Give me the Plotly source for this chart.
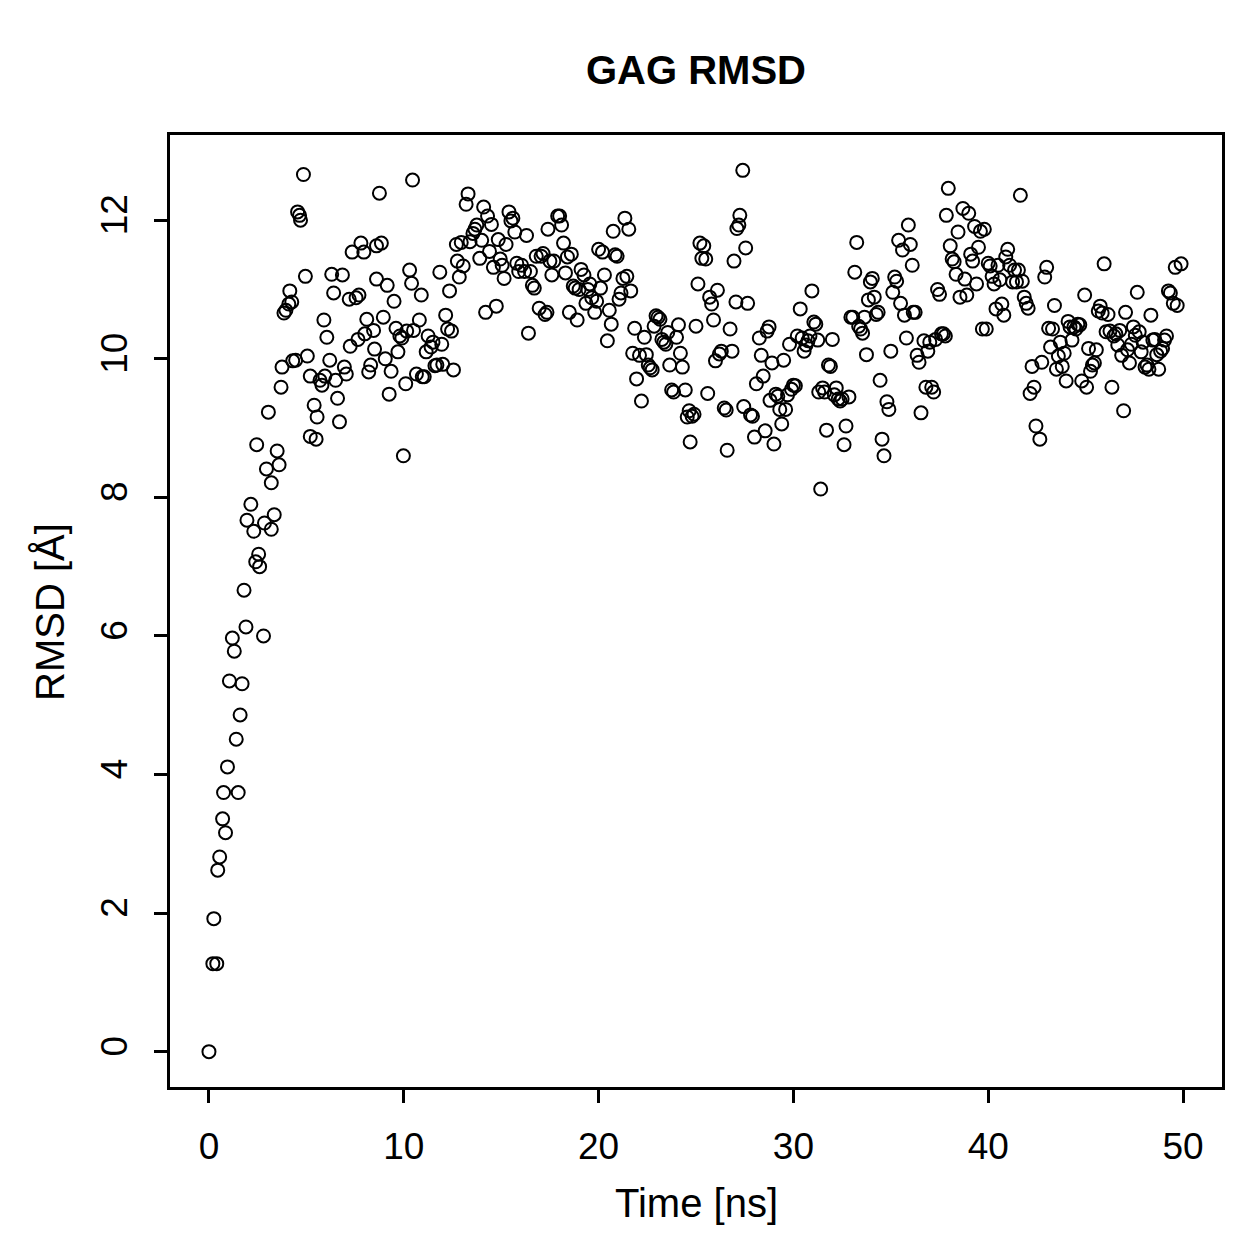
import plotly.graph_objects as go

time_ns = [
    0.0, 0.2, 0.4, 0.25, 0.45, 0.55, 0.7, 0.85, 0.75, 0.95, 1.5, 1.4, 1.6, 1.05, 1.3, 1.2, 1.7, 1.9, 1.8,
    2.8, 2.6, 2.55, 2.4, 2.3, 1.95, 2.15, 2.85, 3.2, 3.35, 2.95, 3.2, 3.6, 3.5, 2.45, 3.05, 3.7, 3.75,
    4.3, 4.45, 3.85, 3.95, 4.1, 4.25, 4.15, 4.85, 4.55, 4.65, 4.7, 4.95, 5.05, 5.2, 5.4, 5.55, 5.2, 5.5,
    5.9, 6.05, 6.2, 5.7, 5.8, 5.95, 6.3, 6.4, 6.5, 6.6, 6.7, 6.85, 6.95, 7.05, 7.2, 7.25, 7.35, 7.55,
    7.65, 7.7, 7.8, 7.95, 8.0, 8.1, 8.2, 8.3, 8.5, 8.45, 8.6, 8.75, 8.6, 8.85, 8.95, 9.05, 9.15, 9.25,
    9.35, 9.5, 9.6, 9.7, 9.8, 9.9, 9.98, 10.1, 10.15, 10.3, 10.4, 10.45, 10.5, 10.65, 10.8, 10.9, 10.95,
    11.05, 11.15, 11.25, 11.4, 11.5, 11.6, 11.7, 11.85, 11.95, 12.0, 12.15, 12.25, 12.35, 12.45, 12.55,
    12.7, 12.75, 12.85, 12.95, 13.05, 13.2, 13.3, 13.4, 13.55, 13.65, 13.75, 13.9, 14.0, 14.1, 14.2,
    14.3, 14.4, 14.5, 14.6, 14.75, 14.85, 14.95, 15.05, 15.15, 15.25, 15.4, 15.5, 15.6, 15.7, 15.8,
    15.9, 16.05, 16.2, 16.3, 16.4, 16.5, 16.6, 16.7, 16.8, 16.95, 17.05, 17.15, 17.25, 17.35, 17.4,
    17.5, 17.6, 17.7, 17.9, 18.0, 18.1, 18.2, 18.3, 18.4, 18.5, 18.6, 18.7, 18.8, 18.9, 19.0, 19.1,
    19.25, 19.35, 19.45, 19.55, 19.65, 19.8, 19.9, 20.0, 20.1, 20.2, 20.3, 20.45, 20.55, 20.65, 20.75,
    20.85, 20.95, 21.05, 21.15, 21.25, 21.35, 21.45, 21.55, 21.65, 21.75, 21.85, 21.95, 22.1, 22.2,
    22.35, 22.45, 22.55, 22.65, 22.75, 22.85, 22.95, 23.05, 23.15, 23.25, 23.35, 23.45, 23.55, 23.65,
    23.75, 23.85, 24.0, 24.1, 24.2, 24.3, 24.45, 24.55, 24.65, 24.7, 24.8, 24.9, 25.0, 25.1, 25.2,
    25.3, 25.4, 25.5, 25.6, 25.7, 25.8, 25.9, 26.0, 26.1, 26.2, 26.3, 26.45, 26.55, 26.6, 26.75, 26.85,
    26.95, 27.05, 27.1, 27.2, 27.25, 27.4, 27.45, 27.55, 27.65, 27.8, 27.9, 28.0, 28.1, 28.25, 28.35,
    28.45, 28.55, 28.65, 28.75, 28.8, 28.9, 29.0, 29.1, 29.2, 29.3, 29.4, 29.5, 29.6, 29.7, 29.8, 29.9,
    30.0, 30.1, 30.2, 30.35, 30.45, 30.55, 30.65, 30.75, 30.85, 30.95, 31.05, 31.15, 31.25, 31.3, 31.4,
    31.5, 31.6, 31.7, 31.8, 31.9, 32.0, 32.1, 32.2, 32.3, 32.4, 32.5, 32.6, 32.7, 32.85, 32.95, 33.05,
    33.15, 33.25, 33.35, 33.45, 33.55, 33.65, 33.75, 33.85, 33.95, 34.05, 34.15, 34.25, 34.35, 34.45,
    34.55, 34.65, 34.8, 34.9, 35.0, 35.1, 35.2, 35.3, 35.4, 35.5, 35.6, 35.7, 35.8, 35.9, 36.0, 36.1,
    36.15, 36.25, 36.35, 36.45, 36.55, 36.7, 36.8, 36.9, 37.0, 37.1, 37.2, 37.3, 37.4, 37.5, 37.6, 37.7,
    37.8, 37.85, 37.95, 38.05, 38.15, 38.25, 38.35, 38.45, 38.55, 38.7, 38.8, 38.9, 39.0, 39.1, 39.2,
    39.3, 39.4, 39.5, 39.6, 39.7, 39.8, 39.9, 40.0, 40.1, 40.2, 40.3, 40.4, 40.5, 40.6, 40.7, 40.8,
    40.9, 41.0, 41.1, 41.25, 41.35, 41.45, 41.55, 41.65, 41.75, 41.85, 41.95, 42.05, 42.15, 42.25,
    42.35, 42.45, 42.65, 42.75, 42.9, 43.0, 43.1, 43.2, 43.3, 43.4, 43.5, 43.6, 43.7, 43.8, 43.9, 44.0,
    44.1, 44.2, 44.3, 44.4, 44.5, 44.6, 44.7, 44.8, 44.95, 45.05, 45.15, 45.25, 45.35, 45.45, 45.55,
    45.65, 45.75, 45.85, 45.95, 46.05, 46.15, 46.25, 46.35, 46.45, 46.55, 46.65, 46.75, 46.85, 46.95,
    47.05, 47.15, 47.25, 47.35, 47.45, 47.55, 47.65, 47.75, 47.85, 47.95, 48.05, 48.15, 48.25, 48.35,
    48.45, 48.55, 48.65, 48.75, 48.85, 48.95, 49.05, 49.15, 49.25, 49.35, 49.5, 49.6, 49.7, 49.9,
]

rmsd_A = [
    0.0, 1.27, 1.27, 1.92, 2.62, 2.81, 3.36, 3.16, 3.74, 4.11, 3.74, 4.51, 4.86, 5.35, 5.78, 5.97, 5.31, 6.13, 6.66,
    6.0, 7.0, 7.18, 7.07, 7.51, 7.67, 7.9, 7.63, 7.54, 7.75, 8.41, 8.21, 8.47, 8.67, 8.76, 9.23, 9.59, 9.88,
    9.97, 9.98, 10.66, 10.7, 10.79, 10.82, 10.98, 12.66, 12.12, 12.07, 12.0, 11.19, 10.04, 9.75, 9.33, 9.16, 8.88, 8.84,
    10.56, 10.31, 9.98, 9.69, 9.62, 9.75, 11.22, 10.95, 9.69, 9.43, 9.09, 11.21, 9.88, 9.78, 10.86, 10.18, 11.54, 10.88,
    10.28, 10.92, 11.67, 11.54, 10.36, 10.57, 9.81, 9.91, 10.14, 10.41, 11.15, 12.39, 11.63, 11.67, 10.6, 10.0, 11.06, 9.49,
    9.82, 10.83, 10.44, 10.1, 10.33, 10.3, 8.6, 9.64, 10.4, 11.28, 11.09, 12.58, 10.41, 9.78, 10.56, 10.92, 9.74,
    9.74, 10.1, 10.33, 10.17, 10.24, 9.9, 9.91, 11.25, 10.21, 9.92, 10.63, 10.43, 10.98, 10.4, 9.84,
    11.65, 11.41, 11.18, 11.68, 11.34, 12.23, 12.38, 11.69, 11.81, 11.87, 11.93, 11.45, 11.71, 12.19, 10.67,
    12.06, 11.55, 11.94, 11.32, 10.76, 11.72, 11.44, 11.35, 11.16, 11.65, 12.12, 11.99, 12.03, 11.83, 11.38,
    11.26, 11.35, 11.26, 11.78, 10.37, 11.26, 11.06, 11.02, 11.48, 10.73, 11.48, 11.52, 10.64, 10.67, 11.87,
    11.41, 11.21, 11.41, 12.06, 12.06, 11.93, 11.67, 11.24, 11.47, 10.67, 11.51, 11.05, 11.02, 10.56, 11.0, 11.29,
    11.21, 10.8, 11.0, 11.08, 10.88, 10.67, 10.83, 11.58, 11.02, 11.54, 11.21, 10.26, 10.7, 10.5, 11.84,
    11.5, 11.48, 10.86, 10.95, 11.16, 12.03, 11.19, 11.87, 10.98, 10.08, 10.44, 9.71, 10.05, 9.39,
    10.31, 10.06, 9.91, 9.87, 9.84, 10.47, 10.62, 10.6, 10.57, 10.28, 10.24, 10.21, 10.38, 9.91,
    9.55, 9.52, 10.31, 10.49, 10.08, 9.88, 9.55, 9.16, 9.25, 8.8, 9.17, 9.2, 10.47, 11.08, 11.67,
    11.45, 11.63, 11.44, 9.5, 10.89, 10.79, 10.56, 9.97, 10.99, 10.07, 10.11, 9.29, 9.26, 8.68, 10.43, 10.11,
    11.41, 10.82, 11.88, 11.93, 12.07, 12.72, 9.31, 11.6, 10.8, 9.19, 9.17, 8.87, 9.64, 10.3, 10.05,
    9.75, 8.96, 10.4, 10.46, 9.4, 9.94, 8.77, 9.49, 9.46, 9.27, 9.06, 9.98, 9.27, 9.48, 10.21, 9.56,
    9.62, 9.61, 10.33, 10.72, 10.3, 10.11, 10.2, 10.26, 10.33, 10.98, 10.53, 10.5, 10.27, 9.52, 8.12,
    9.58, 9.52, 8.97, 9.91, 9.89, 10.28, 9.48, 9.58, 9.42, 9.39, 9.42, 8.76, 9.03, 9.45, 10.6, 10.6,
    11.25, 11.68, 10.47, 10.43, 10.37, 10.6, 10.06, 10.85, 11.11, 11.16, 10.89, 10.64, 10.67, 9.69,
    8.84, 8.6, 9.38, 9.27, 10.11, 10.96, 11.18, 11.12, 11.71, 10.8, 11.57, 10.63, 10.3, 11.93, 11.65, 11.35,
    10.67, 10.67, 10.05, 9.95, 9.22, 10.26, 9.59, 10.11, 10.24, 9.59, 9.52, 10.28, 11.0, 10.93, 10.36, 10.36,
    10.33, 12.07, 12.46, 11.63, 11.44, 11.4, 11.22, 11.83, 10.89, 12.17, 11.15, 10.92, 12.1, 11.51, 11.41,
    11.91, 11.08, 11.61, 11.84, 10.43, 11.87, 10.43, 11.38, 11.34, 11.19, 11.08, 10.72, 11.35, 11.14, 10.79, 10.63,
    11.47, 11.58, 11.35, 11.11, 11.28, 11.11, 11.28, 12.36, 11.12, 10.89, 10.8, 10.73, 9.5, 9.89,
    9.59, 9.03, 8.84, 9.95, 11.18, 11.32, 10.44, 10.17, 10.43, 10.77, 9.85, 10.04, 10.24, 9.89, 10.08, 9.68,
    10.54, 10.46, 10.27, 10.46, 10.43, 10.5, 10.49, 9.68, 10.92, 9.59, 10.15, 9.82, 9.91, 9.94, 10.13,
    10.69, 10.76, 10.66, 11.37, 10.39, 10.64, 10.4, 9.59, 10.33, 10.36, 10.2, 10.41, 10.05, 9.25,
    10.67, 10.13, 9.94, 10.21, 10.46, 10.34, 10.96, 10.39, 10.1, 10.24, 9.88, 9.91, 9.85, 10.63,
    10.27, 10.28, 10.06, 9.85, 10.11, 10.15, 10.27, 10.33, 10.98, 10.95, 10.8, 11.32, 10.77, 11.37,
]

x_ticks = [0, 10, 20, 30, 40, 50]
y_ticks = [0, 2, 4, 6, 8, 10, 12]

FONT = "Liberation Sans, Arial, Helvetica, sans-serif"

fig = go.Figure()
fig.add_trace(go.Scatter(
    x=time_ns, y=rmsd_A, mode="markers",
    marker=dict(symbol="circle-open", size=13, color="black", line=dict(width=2, color="black")),
    showlegend=False, hoverinfo="x+y",
))

axis_common = dict(
    showgrid=False, zeroline=False, showline=True, linecolor="black", linewidth=2.5,
    mirror=True, ticks="outside", ticklen=13, tickwidth=2.5, tickcolor="black",
    tickfont=dict(family=FONT, size=37, color="black"),
)

fig.update_xaxes(range=[-2, 52], tickvals=x_ticks, ticklabelstandoff=12, **axis_common)
fig.update_yaxes(range=[-0.51, 13.23], tickvals=y_ticks, tickangle=-90, ticklabelstandoff=12, **axis_common)

W, H = 1259, 1259
ml, mr, mt, mb = 170, 37, 135, 172
pw, ph = W - ml - mr, H - mt - mb

fig.update_layout(
    width=W, height=H,
    margin=dict(l=ml, r=mr, t=mt, b=mb),
    plot_bgcolor="white", paper_bgcolor="white",
    font=dict(family=FONT, color="black"),
    title=dict(text="<b>GAG RMSD</b>", x=(ml + pw / 2) / W, xanchor="center",
               y=1 - 70 / H, yanchor="middle", font=dict(family=FONT, size=40, color="black")),
    annotations=[
        dict(text="Time [ns]", xref="paper", yref="paper", x=0.5, y=(1087 - 1203) / ph,
             xanchor="center", yanchor="middle", showarrow=False,
             font=dict(family=FONT, size=40, color="black")),
        dict(text="RMSD [Å]", xref="paper", yref="paper", x=(50 - ml) / pw, y=(1087 - 612) / ph,
             xanchor="center", yanchor="middle", textangle=-90, showarrow=False,
             font=dict(family=FONT, size=40, color="black")),
    ],
)

fig.write_html("out.html")
